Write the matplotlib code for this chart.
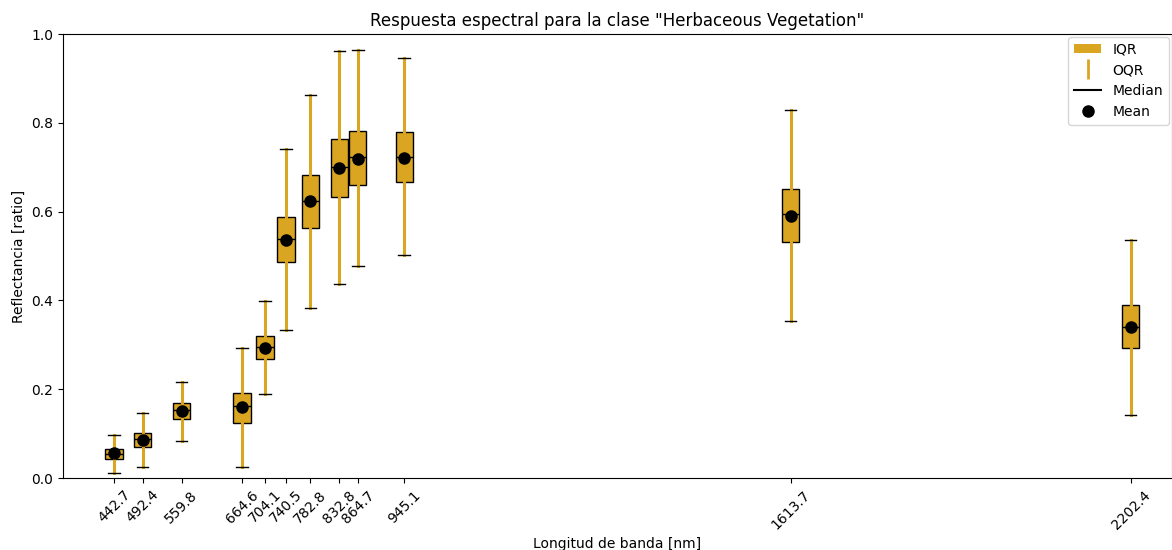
import matplotlib
matplotlib.use("Agg")
import matplotlib.pyplot as plt
from matplotlib.patches import Patch
from matplotlib.lines import Line2D

wavelengths = [442.7, 492.4, 559.8, 664.6, 704.1, 740.5, 782.8, 832.8, 864.7, 945.1, 1613.7, 2202.4]
whislo = [0.012, 0.025, 0.083, 0.025, 0.190, 0.333, 0.384, 0.438, 0.477, 0.502, 0.353, 0.142]
q1     = [0.042, 0.070, 0.134, 0.125, 0.267, 0.486, 0.562, 0.634, 0.659, 0.667, 0.532, 0.292]
median = [0.054, 0.087, 0.154, 0.162, 0.296, 0.539, 0.625, 0.700, 0.724, 0.724, 0.594, 0.341]
q3     = [0.065, 0.102, 0.168, 0.192, 0.320, 0.588, 0.682, 0.764, 0.782, 0.779, 0.651, 0.389]
whishi = [0.097, 0.146, 0.217, 0.293, 0.398, 0.742, 0.862, 0.962, 0.963, 0.946, 0.828, 0.536]
mean   = [0.056, 0.086, 0.151, 0.161, 0.292, 0.537, 0.623, 0.699, 0.718, 0.721, 0.589, 0.341]

color = '#DAA520'

stats = []
for i in range(len(wavelengths)):
    stats.append(dict(whislo=whislo[i], q1=q1[i], med=median[i], q3=q3[i],
                      whishi=whishi[i], mean=mean[i], fliers=[]))

fig = plt.figure(figsize=(11.72, 5.5), dpi=100)
ax = fig.add_axes([62.7 / 1172, 72 / 550, (1171.5 - 62.7) / 1172, 444 / 550])

ax.bxp(stats, positions=wavelengths, widths=30, capwidths=20,
       showmeans=True, patch_artist=True, manage_ticks=False,
       boxprops=dict(facecolor=color, edgecolor='black', linewidth=1),
       whiskerprops=dict(color=color, linewidth=2.2),
       capprops=dict(color='black', linewidth=1),
       medianprops=dict(color='black', linewidth=1),
       meanprops=dict(marker='o', markerfacecolor='black', markeredgecolor='black', markersize=8))

ax.set_xticks(wavelengths)
ax.set_xticklabels([f"{w:.1f}" for w in wavelengths], rotation=45)
ax.set_xlim(354, 2273)
ax.set_ylim(0, 1.0)
ax.set_xlabel("Longitud de banda [nm]")
ax.set_ylabel("Reflectancia [ratio]")
ax.set_title('Respuesta espectral para la clase "Herbaceous Vegetation"', fontsize=12)

handles = [
    Patch(facecolor=color, edgecolor='none', label='IQR'),
    Line2D([], [], color=color, marker='|', linestyle='none', markersize=15, markeredgewidth=2, label='OQR'),
    Line2D([], [], color='black', linewidth=1.5, label='Median'),
    Line2D([], [], color='black', marker='o', linestyle='none', markersize=8, label='Mean'),
]
ax.legend(handles=handles, loc='upper right', borderaxespad=0.2)

fig.savefig("out.png", dpi=100)
